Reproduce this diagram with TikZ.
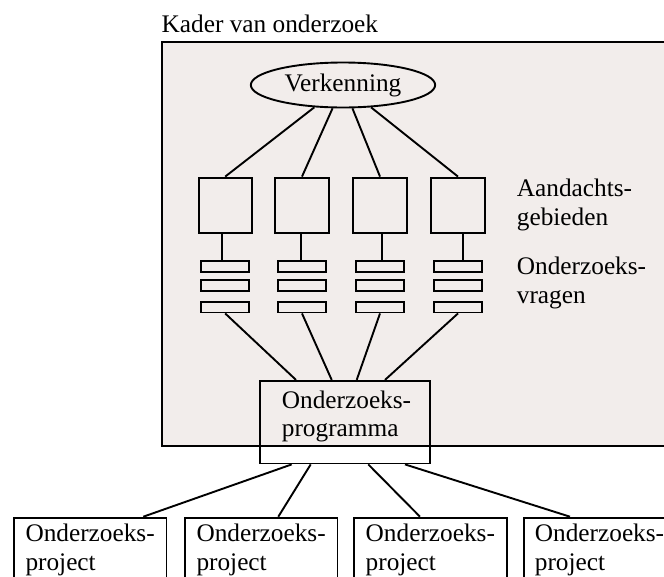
\documentclass[tikz,border=0pt]{standalone}
\usepackage{fontspec}
\setmainfont{Liberation Serif}
\usetikzlibrary{shapes.geometric}
\definecolor{bgc}{RGB}{242,237,235}
\newcommand\dfont{\fontsize{25.3pt}{28.7pt}\selectfont}
\begin{document}
\begin{tikzpicture}[x=1pt,y=-1pt,
  every node/.style={font=\dfont, inner sep=0pt},
  ln/.style={line width=1.9pt},
  sqbox/.style={draw, line width=1.9pt, minimum width=53.3pt, minimum height=55.3pt},
  barbox/.style={draw, line width=1.9pt, minimum width=47.6pt, minimum height=10.7pt},
  projbox/.style={draw, line width=1.9pt, minimum width=152.3pt, minimum height=80pt, anchor=north},
  lbl/.style={anchor=base west, align=left}
]
\clip (0,0) rectangle (664,576);
\node[lbl] (title) at (161.5,32.3) {Kader van onderzoek};
\node[draw, fill=bgc, line width=1.9pt, anchor=north west, minimum width=540pt, minimum height=403.9pt] (frame) at (161,41) {};
\node[ellipse, draw, ln, minimum width=184.3pt, minimum height=45pt] (ell) at (343,85) {Verkenning};
\node[lbl] (lab1) at (516.7,225) {Aandachts-\\gebieden};
\node[lbl] (lab2) at (516.7,303.3) {Onderzoeks-\\vragen};
\node[draw, ln, minimum width=170.5pt, minimum height=82.6pt] (prog) at (345,422.15) {};
\node[lbl] (progtxt) at (281.7,436.7) {Onderzoeks-\\programma};
\foreach \i/\x/\vs/\po/\pb/\pt/\px in {1/225.2/-3/-49/-53.3/53/90.3, 2/302/-1/-13.3/-34.3/17/261.3, 3/380/1.7/11.7/23.3/-10.5/430.5, 4/458/4.7/40/60/-29.7/599.7}{
  \node[sqbox] (sq\i) at (\x,205.2) {};
  \node[barbox] (b\i a) at (\x,266.5) {};
  \node[barbox] (b\i b) at (\x,285.5) {};
  \node[barbox] (b\i c) at (\x,307.15) {};
  \draw[ln] (ell) -- (sq\i.north);
  \draw[ln] ([xshift=\vs]sq\i.south) -- ([xshift=\vs]b\i a.north);
  \draw[ln] (b\i c.south) -- ([xshift=\po]prog.north);
  \node[projbox] (pj\i) at (\px,516.7) {};
  \node[lbl] (pt\i) at (\px-65,570) {Onderzoeks-\\project};
  \draw[ln] ([xshift=\pb]prog.south) -- ([xshift=\pt]pj\i.north);
}
\end{tikzpicture}
\end{document}
